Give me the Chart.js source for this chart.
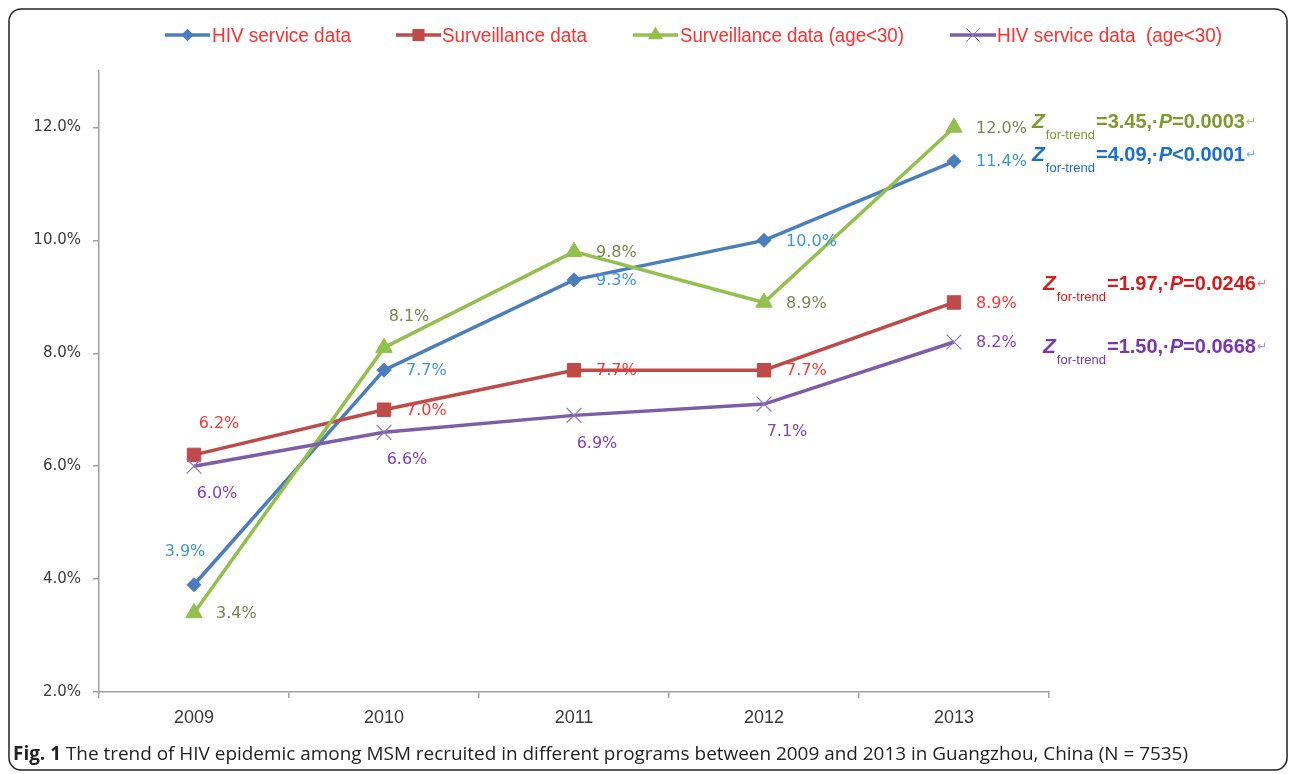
<!DOCTYPE html>
<html><head><meta charset="utf-8">
<script src="https://cdn.jsdelivr.net/npm/chart.js@4/dist/chart.umd.min.js"></script>
<style>html,body{margin:0;padding:0;background:#fff;}#wrap{position:relative;width:1292px;height:774px;}</style>
</head><body><div id="wrap"><canvas id="c" width="1292" height="774"></canvas></div>
<script>
// ---- data ----
const years = ['2009', '2010', '2011', '2012', '2013'];
const seriesNames = ['HIV service data', 'Surveillance data', 'Surveillance data (age<30)', 'HIV service data  (age<30)'];
const hivService = [3.9, 7.7, 9.3, 10.0, 11.4];
const surveillance = [6.2, 7.0, 7.7, 7.7, 8.9];
const surveillanceU30 = [3.4, 8.1, 9.8, 8.9, 12.0];
const hivServiceU30 = [6.0, 6.6, 6.9, 7.1, 8.2];
const yTickValues = [2, 4, 6, 8, 10, 12];
const trendZ = ['4.09', '1.97', '3.45', '1.50'];
const trendP = ['<0.0001', '=0.0246', '=0.0003', '=0.0668'];
const captionLabel = 'Fig. 1';
const captionText = ' The trend of HIV epidemic among MSM recruited in different programs between 2009 and 2013 in Guangzhou, China (N = 7535)';

// ---- styles ----
const lineColors = ['#4a7ebb', '#be4b48', '#93bf4c', '#7d5ca8'];
const labelColors = ['#3d97dc', '#ff3535', '#76874f', '#8243c0'];
const annColors = ['#1a6fd0', '#d41c1c', '#7f9a30', '#7a35b0'];
const pointStyles = ['rectRot', 'rect', 'triangle', 'crossRot'];
const pointRadii = [7, 9.5, 9.5, 10.5];
const labelPos = [
  ['aboveLeft', 'right', 'right', 'right', 'right'],
  ['above', 'right', 'right', 'right', 'right'],
  ['right', 'above', 'right', 'right', 'right'],
  ['below', 'below', 'below', 'below', 'right']
];
const annOffset = [[78, 0], [89, -12], [78, 1], [89, 11]];
const legendLayout = [[165, 210, 212, 139], [396, 441, 442, 145], [633, 678, 680, 224], [950, 996, 997, 225]];

const seriesData = [hivService, surveillance, surveillanceU30, hivServiceU30];

function shape(ctx, style, x, y, r, color) {
  ctx.save();
  ctx.fillStyle = color; ctx.strokeStyle = color; ctx.lineWidth = 1;
  ctx.beginPath();
  if (style === 'rectRot') {
    ctx.moveTo(x, y - r); ctx.lineTo(x + r, y); ctx.lineTo(x, y + r); ctx.lineTo(x - r, y); ctx.closePath(); ctx.fill();
  } else if (style === 'rect') {
    const s = r * Math.SQRT1_2; ctx.rect(x - s, y - s, 2 * s, 2 * s); ctx.fill();
  } else if (style === 'triangle') {
    ctx.moveTo(x, y - r); ctx.lineTo(x + r * 0.866, y + r * 0.5); ctx.lineTo(x - r * 0.866, y + r * 0.5); ctx.closePath(); ctx.fill();
  } else {
    ctx.strokeStyle = '#8f78c0';
    const s = r * Math.SQRT1_2; ctx.moveTo(x - s, y - s); ctx.lineTo(x + s, y + s); ctx.moveTo(x + s, y - s); ctx.lineTo(x - s, y + s); ctx.stroke();
  }
  ctx.restore();
}
function fitText(ctx, text, x, y, w) {
  const m = ctx.measureText(text).width;
  ctx.save(); ctx.translate(x, y); ctx.scale(w / m, 1); ctx.fillText(text, 0, 0); ctx.restore();
}

const decor = {
  id: 'decor',
  beforeDraw(chart) {
    const ctx = chart.ctx;
    ctx.save();
    ctx.fillStyle = '#fff'; ctx.fillRect(0, 0, chart.width, chart.height);
    ctx.strokeStyle = '#222'; ctx.lineWidth = 1.5;
    ctx.beginPath(); ctx.roundRect(9, 9, 1278, 761, 12); ctx.stroke();
    ctx.restore();
  },
  afterDatasetsDraw(chart) {
    const ctx = chart.ctx;
    ctx.save();
    ctx.font = '16px "DejaVu Sans"';
    ctx.textBaseline = 'middle';
    chart.data.datasets.forEach((ds, di) => {
      const meta = chart.getDatasetMeta(di);
      meta.data.forEach((pt, i) => {
        const txt = ds.data[i].toFixed(1) + '%';
        const pos = labelPos[di][i];
        ctx.fillStyle = labelColors[di];
        let x = pt.x, y = pt.y;
        if (pos === 'right') { ctx.textAlign = 'left'; x += 22; y += 1; }
        else if (pos === 'above') { ctx.textAlign = 'center'; x += 25; y -= 31; }
        else if (pos === 'aboveLeft') { ctx.textAlign = 'center'; x -= 9; y -= 33; }
        else { ctx.textAlign = 'center'; x += 23; y += 28; }
        ctx.fillText(txt, x, y);
      });
    });
    ctx.restore();
  },
  afterDraw(chart) {
    const ctx = chart.ctx;
    ctx.save();
    // legend
    legendLayout.forEach((L, i) => {
      const y = 35;
      ctx.strokeStyle = lineColors[i]; ctx.lineWidth = 3.5;
      ctx.beginPath(); ctx.moveTo(L[0], y); ctx.lineTo(L[1], y); ctx.stroke();
      shape(ctx, pointStyles[i], (L[0] + L[1]) / 2, y, pointRadii[i] * 0.9, lineColors[i]);
      ctx.fillStyle = '#ff3030';
      ctx.font = '20px "Liberation Sans"';
      ctx.textBaseline = 'middle'; ctx.textAlign = 'left';
      fitText(ctx, seriesNames[i], L[2], y + 1, L[3]);
    });
    // trend annotations
    ctx.textBaseline = 'alphabetic'; ctx.textAlign = 'left';
    chart.data.datasets.forEach((ds, di) => {
      const meta = chart.getDatasetMeta(di);
      const pt = meta.data[meta.data.length - 1];
      let x = pt.x + annOffset[di][0];
      const y = pt.y + annOffset[di][1];
      ctx.fillStyle = annColors[di];
      ctx.font = 'italic bold 21px "Liberation Sans"';
      ctx.fillText('Z', x, y); x += ctx.measureText('Z').width + 1;
      ctx.font = '13px "Liberation Sans"';
      ctx.fillText('for-trend', x, y + 11); x += ctx.measureText('for-trend').width + 1;
      ctx.font = 'bold 20px "Liberation Sans"';
      const s1 = '=' + trendZ[di] + ',\u00B7';
      ctx.fillText(s1, x, y); x += ctx.measureText(s1).width;
      ctx.font = 'italic bold 20px "Liberation Sans"';
      ctx.fillText('P', x, y); x += ctx.measureText('P').width;
      ctx.font = 'bold 20px "Liberation Sans"';
      ctx.fillText(trendP[di], x, y); x += ctx.measureText(trendP[di]).width + 1;
      ctx.font = '12px "DejaVu Sans"';
      ctx.globalAlpha = 0.6;
      ctx.fillText('\u21B5', x, y - 3);
      ctx.globalAlpha = 1;
    });
    // caption
    ctx.fillStyle = '#222';
    ctx.textBaseline = 'alphabetic';
    ctx.font = 'bold 19px "Open Sans"';
    const wLab = ctx.measureText(captionLabel).width;
    ctx.font = '19px "Open Sans"';
    const wTxt = ctx.measureText(captionText).width;
    const sc = 1175 / (wLab + wTxt);
    ctx.save(); ctx.translate(13, 760); ctx.scale(sc, 1);
    ctx.font = 'bold 19px "Open Sans"'; ctx.fillText(captionLabel, 0, 0);
    ctx.font = '19px "Open Sans"'; ctx.fillText(captionText, wLab, 0);
    ctx.restore();
    ctx.restore();
  }
};

const datasets = seriesData.map((d, i) => ({
  label: seriesNames[i],
  data: d,
  borderColor: lineColors[i],
  backgroundColor: lineColors[i],
  borderWidth: 3.5,
  pointStyle: pointStyles[i],
  pointRadius: pointRadii[i],
  pointBorderWidth: i === 3 ? 1.2 : 1,
  pointBorderColor: i === 3 ? '#8f78c0' : lineColors[i],
  pointBackgroundColor: lineColors[i],
  tension: 0,
  order: 4 - i
}));

new Chart(document.getElementById('c'), {
  type: 'line',
  data: { labels: years, datasets },
  options: {
    responsive: false,
    animation: false,
    devicePixelRatio: 1,
    layout: { padding: { top: 71, right: 243, left: 0, bottom: 0 } },
    plugins: { legend: { display: false }, tooltip: { enabled: false } },
    scales: {
      x: {
        offset: true,
        grid: { offset: true, drawOnChartArea: false, drawTicks: true, tickLength: 6, color: '#a0a0a0', lineWidth: 1.5 },
        border: { color: '#a0a0a0', width: 1.5 },
        ticks: { font: { family: 'Liberation Sans', size: 18 }, color: '#3a3a3a', padding: 9, maxRotation: 0 },
        afterFit(s) { s.height = 82; }
      },
      y: {
        min: 2, max: 13,
        afterBuildTicks(s) { s.ticks = yTickValues.map(v => ({ value: v })); },
        ticks: { callback: v => v.toFixed(1) + '%', font: { family: 'DejaVu Sans', size: 15 }, color: '#3a3a3a', padding: 12 },
        grid: { drawOnChartArea: false, tickLength: 6, color: '#a0a0a0', lineWidth: 1.5 },
        border: { color: '#a0a0a0', width: 1.5 },
        afterFit(s) { s.width = 99; }
      }
    }
  },
  plugins: [decor]
});
</script>
</body></html>
